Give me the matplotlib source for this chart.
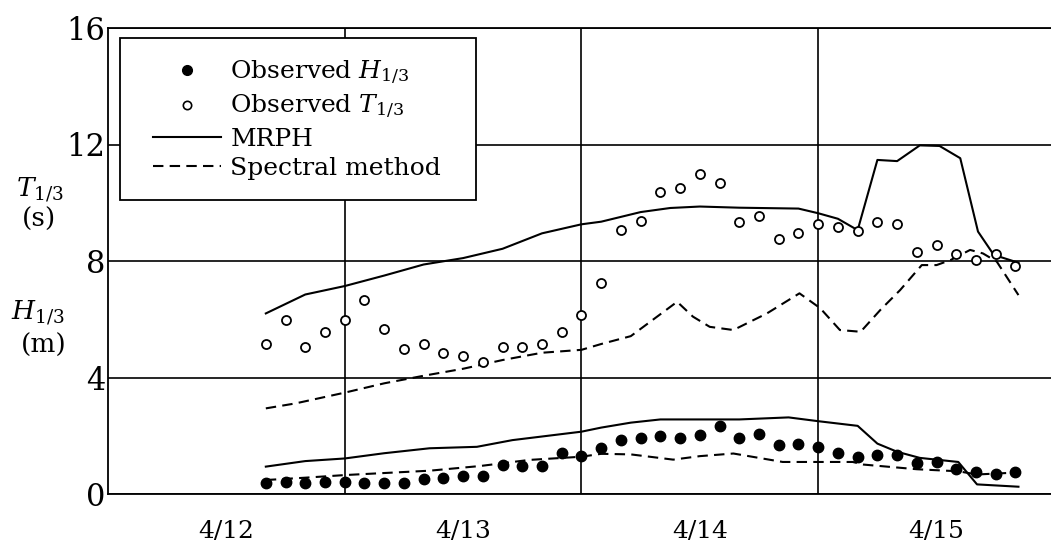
import matplotlib
matplotlib.use("Agg")
import matplotlib.pyplot as plt
from matplotlib.lines import Line2D
from matplotlib.patches import Rectangle

plt.rcParams['font.family'] = ['DejaVu Serif']
plt.rcParams['mathtext.fontset'] = 'custom'
plt.rcParams['mathtext.rm'] = 'DejaVu Serif'
plt.rcParams['mathtext.it'] = 'DejaVu Serif:italic'

# hours counted from 4/12 00:00
obs_hours = [16, 18, 20, 22, 24, 26, 28, 30, 32, 34, 36, 38, 40, 42, 44, 46, 48, 50, 52,
             54, 56, 58, 60, 62, 64, 66, 68, 70, 72, 74, 76, 78, 80, 82, 84, 86, 88, 90, 92]
obs_h = [0.39, 0.42, 0.37, 0.42, 0.40, 0.39, 0.39, 0.37, 0.50, 0.54, 0.63, 0.63, 1.00, 0.96,
         0.96, 1.40, 1.30, 1.59, 1.86, 1.93, 1.99, 1.92, 2.04, 2.33, 1.93, 2.07, 1.67, 1.72,
         1.61, 1.41, 1.27, 1.35, 1.35, 1.05, 1.10, 0.87, 0.74, 0.70, 0.74]
obs_t = [5.15, 5.97, 5.06, 5.57, 5.97, 6.66, 5.65, 4.97, 5.14, 4.85, 4.74, 4.54, 5.06, 5.04,
         5.14, 5.55, 6.15, 7.26, 9.06, 9.37, 10.38, 10.50, 10.98, 10.67, 9.35, 9.56, 8.75,
         8.95, 9.26, 9.18, 9.04, 9.35, 9.26, 8.32, 8.55, 8.23, 8.03, 8.24, 7.83]

mrph_t_hours = [16, 20, 24, 28, 32, 36, 40, 44, 48, 50, 54, 57, 60, 64, 70, 72, 74, 76,
                78, 80, 82.3, 84.3, 86.4, 88.2, 89.8, 92.3]
mrph_t = [6.20, 6.85, 7.14, 7.50, 7.88, 8.10, 8.42, 8.95, 9.26, 9.35, 9.68, 9.82, 9.87,
          9.83, 9.80, 9.64, 9.45, 9.06, 11.47, 11.43, 11.97, 11.95, 11.53, 9.01, 8.21, 7.94]

spec_t_hours = [16, 19, 24, 28, 32, 36, 40, 44, 48, 50, 53, 57.7, 59.3, 61, 63.4, 66.8,
                70.1, 72.2, 74.2, 76.3, 78.3, 80.3, 82.5, 84, 85.4, 87.4, 88.7, 90.1, 92.3]
spec_t = [2.94, 3.11, 3.48, 3.80, 4.06, 4.30, 4.60, 4.85, 4.95, 5.15, 5.42, 6.60, 6.09,
          5.74, 5.63, 6.20, 6.89, 6.38, 5.63, 5.57, 6.32, 7.00, 7.86, 7.86, 8.03, 8.38,
          8.26, 7.98, 6.83]

mrph_h_hours = [16, 20, 24, 28, 32.6, 37.4, 41, 48, 50, 53, 56, 60, 64, 69, 72, 76, 78,
                80, 82.3, 86.2, 88.1, 92.3]
mrph_h = [0.94, 1.13, 1.22, 1.40, 1.57, 1.62, 1.85, 2.14, 2.28, 2.45, 2.56, 2.56, 2.56,
          2.63, 2.50, 2.34, 1.73, 1.45, 1.24, 1.10, 0.33, 0.25]

spec_h_hours = [16, 20, 24, 28, 32.6, 37.7, 42.7, 48, 50, 53, 57.3, 60, 63.4, 68.4, 72,
                75.5, 76.6, 82, 86.2, 88.1, 92.3]
spec_h = [0.48, 0.56, 0.65, 0.72, 0.80, 0.96, 1.17, 1.28, 1.38, 1.36, 1.18, 1.30, 1.39,
          1.10, 1.10, 1.10, 1.01, 0.85, 0.78, 0.67, 0.74]

day_centres = [12, 36, 60, 84]
day_labels = ['4/12', '4/13', '4/14', '4/15']
day_bounds = [24, 48, 72]
y_ticks = [0, 4, 8, 12, 16]

fig = plt.figure(figsize=(10.51, 5.48), dpi=100)
W, H = 1051, 548
AX_W, AX_H = 943, 466
ax = fig.add_axes([108 / W, 1 - 494 / H, AX_W / W, AX_H / H])
ax.set_xlim(0, 95.6)
ax.set_ylim(0, 16)

lw = 1.5
dash = (5, 3)
ax.plot(mrph_t_hours, mrph_t, color='black', lw=lw)
ax.plot(mrph_h_hours, mrph_h, color='black', lw=lw)
ax.plot(spec_t_hours, spec_t, color='black', lw=lw, dashes=dash)
ax.plot(spec_h_hours, spec_h, color='black', lw=lw, dashes=dash)
ax.plot(obs_hours, obs_t, 'o', ms=6.5, mfc='white', mec='black', mew=1.3, ls='none')
ax.plot(obs_hours, obs_h, 'o', ms=7.5, color='black', ls='none')

ax.spines['right'].set_visible(False)
for s in ['top', 'left', 'bottom']:
    ax.spines[s].set_linewidth(1.3)

ax.set_yticks(y_ticks)
ax.set_yticklabels([str(v) for v in y_ticks], fontsize=22)
ax.tick_params(axis='y', length=0, pad=2)
ax.set_xticks(day_bounds)
ax.set_xticklabels([])
ax.set_xticks(day_centres, minor=True)
ax.set_xticklabels(day_labels, minor=True, fontsize=18)
ax.tick_params(axis='x', which='both', length=0)
ax.tick_params(axis='x', which='minor', pad=19)
ax.grid(True, which='major', color='black', lw=1.2)
ax.set_axisbelow(True)

# legend frame drawn as its own white box so the entries can sit inset in it
box = Rectangle((12 / AX_W, (494 - 200) / AX_H), 356 / AX_W, 162 / AX_H,
                transform=ax.transAxes, facecolor='white', edgecolor='black',
                lw=1.3, zorder=4.5, clip_on=False)
ax.add_patch(box)

handles = [
    Line2D([], [], marker='o', ls='none', color='black', ms=7),
    Line2D([], [], marker='o', ls='none', mfc='white', mec='black', mew=1.2, ms=6),
    Line2D([], [], color='black', lw=lw),
    Line2D([], [], color='black', lw=lw, dashes=dash),
]
labels = [r'Observed $H_{\mathit{1/3}}$', r'Observed $T_{\mathit{1/3}}$',
          'MRPH', 'Spectral method']
leg = ax.legend(handles, labels, loc='upper left',
                bbox_to_anchor=((153 - 108) / AX_W, (494 - 58) / AX_H),
                fontsize=18, frameon=False, borderpad=0, handlelength=2.7,
                handletextpad=0.4, labelspacing=0.25, borderaxespad=0)
leg.set_zorder(5)

fig.text(40 / W, 1 - 190 / H, r'$T_{\mathit{1/3}}$', ha='center', va='center', fontsize=19)
fig.text(39 / W, 1 - 219 / H, '(s)', ha='center', va='center', fontsize=19)
fig.text(38 / W, 1 - 313 / H, r'$H_{\mathit{1/3}}$', ha='center', va='center', fontsize=19)
fig.text(44 / W, 1 - 345 / H, '(m)', ha='center', va='center', fontsize=19)

fig.savefig('out.png', dpi=100)
